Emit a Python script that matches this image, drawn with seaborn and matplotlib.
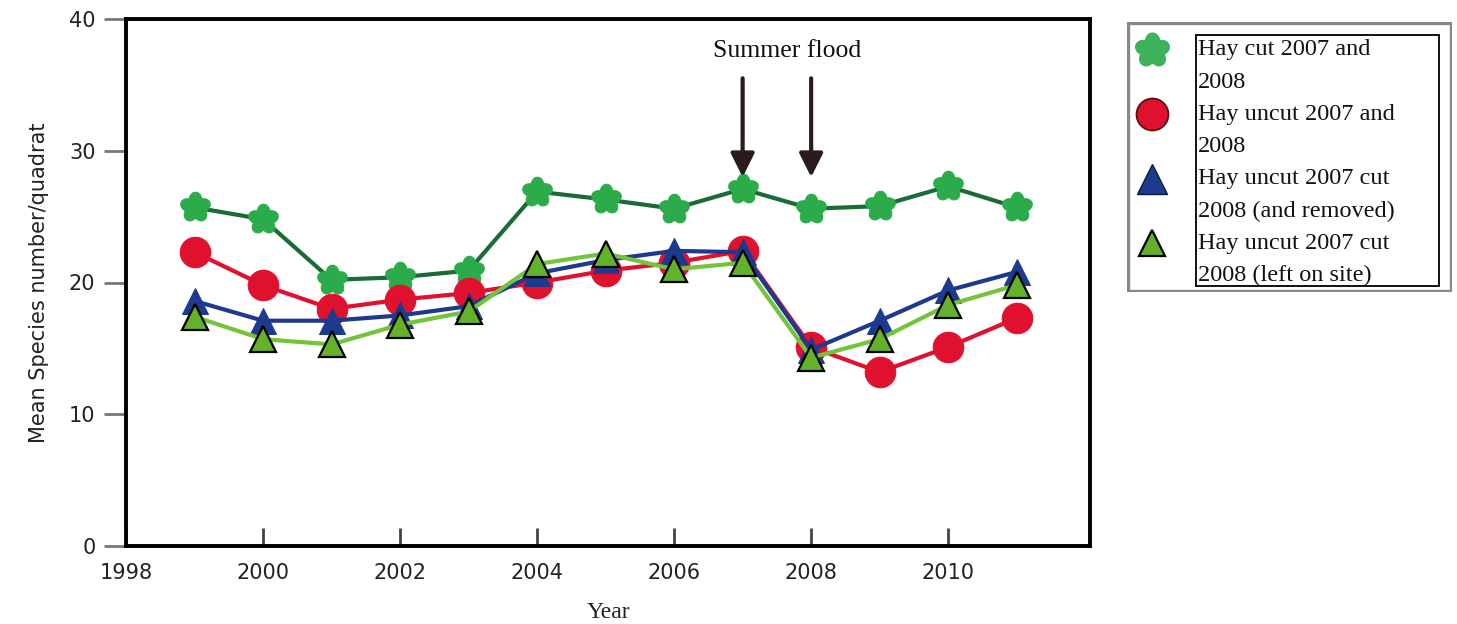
import numpy as np
import pandas as pd
import seaborn as sns
import matplotlib
matplotlib.use("Agg")
import matplotlib.pyplot as plt
from matplotlib.path import Path
from matplotlib.patches import Rectangle

sns.set_theme(style="white")
plt.rcParams['font.family'] = ['DejaVu Sans']

years = [1999, 2000, 2001, 2002, 2003, 2004, 2005, 2006, 2007, 2008, 2009, 2010, 2011]
cut_both = [25.7, 24.8, 20.2, 20.4, 20.9, 26.9, 26.3, 25.6, 27.1, 25.6, 25.8, 27.3, 25.7]
uncut_both = [22.3, 19.8, 18.0, 18.7, 19.2, 20.0, 20.9, 21.5, 22.4, 15.1, 13.2, 15.1, 17.3]
uncut_cut_removed = [18.6, 17.1, 17.1, 17.5, 18.2, 20.7, 21.7, 22.4, 22.3, 14.9, 17.1, 19.4, 20.8]
uncut_cut_left = [17.4, 15.7, 15.3, 16.8, 17.8, 21.4, 22.2, 21.0, 21.5, 14.3, 15.7, 18.3, 19.8]

labels = ["Hay cut 2007 and\n2008", "Hay uncut 2007 and\n2008",
          "Hay uncut 2007 cut\n2008 (and removed)", "Hay uncut 2007 cut\n2008 (left on site)"]
x_ticks = [1998, 2000, 2002, 2004, 2006, 2008, 2010]
y_ticks = [0, 10, 20, 30, 40]

W, H = 1457, 624
fig = plt.figure(figsize=(W / 100, H / 100), dpi=100)

def px(l, t, r, b):
    return [l / W, 1 - b / H, (r - l) / W, (b - t) / H]

ax = fig.add_axes(px(126, 19, 1090, 546))

# flower-shaped marker (5 rounded petals)
th = np.linspace(0, 2 * np.pi, 201)
rr = 0.72 + 0.32 * np.abs(np.cos(2.5 * th))
flower = Path(np.column_stack([rr * np.sin(th), rr * np.cos(th)]), closed=True)

df = pd.DataFrame({"year": years, "a": cut_both, "b": uncut_both,
                   "c": uncut_cut_removed, "d": uncut_cut_left})

sns.lineplot(data=df, x="year", y="a", ax=ax, color="#1c6b36", lw=3.0,
             marker=flower, markersize=22, markerfacecolor="#2bab4a",
             markeredgecolor="#2bab4a", zorder=3)
sns.lineplot(data=df, x="year", y="b", ax=ax, color="#e0112f", lw=3.0,
             marker="o", markersize=22, markerfacecolor="#e0112f",
             markeredgecolor="#e0112f", zorder=4)
sns.lineplot(data=df, x="year", y="c", ax=ax, color="#1c3a8e", lw=3.0,
             marker="^", markersize=19, markerfacecolor="#1c3a8e",
             markeredgecolor="#1c3a8e", zorder=5)
sns.lineplot(data=df, x="year", y="d", ax=ax, color="#74c43a", lw=3.0,
             marker="^", markersize=19, markerfacecolor="#64b22a",
             markeredgecolor="black", markeredgewidth=1.6, zorder=6)

ax.set_xlim(1998, 2012.07)
ax.set_ylim(0, 40)
ax.set_xticks(x_ticks)
ax.set_yticks(y_ticks)
ax.set_xticklabels([str(v) for v in x_ticks], fontsize=15, color="#222222")
ax.set_yticklabels([str(v) for v in y_ticks], fontsize=15, color="#222222")
ax.tick_params(axis="x", direction="in", length=13, width=2, color="#444444", pad=12)
ax.tick_params(axis="y", direction="out", length=16, width=2, color="#777777", pad=6,
               left=True)
ax.tick_params(axis="x", bottom=True)
for sp in ax.spines.values():
    sp.set_color("black")
    sp.set_linewidth(2.8)
    sp.set_visible(True)
ax.set_xlabel("Year", fontsize=17, family="Liberation Serif", color="#222222", labelpad=14)
ax.set_ylabel("Mean Species number/quadrat", fontsize=15,
              family=["Liberation Sans Narrow", "DejaVu Sans"], color="#222222", labelpad=14)
ax.grid(False)

# flood annotation
for yr in [2007, 2008]:
    ax.annotate("", xy=(yr, 28.0), xytext=(yr, 35.5),
                arrowprops=dict(arrowstyle="-|>,head_length=1.2,head_width=0.6",
                                color="#2a1c1c", lw=3.0, shrinkA=0, shrinkB=0))
ax.text(2007.65, 37.6, "Summer flood", ha="center", va="center", fontsize=18.5,
        family="Liberation Serif", color="#111111")

# legend
lax = fig.add_axes(px(1127, 22, 1452, 292))
lax.set_xlim(1127, 1452)
lax.set_ylim(292, 22)
lax.axis("off")
lax.add_patch(Rectangle((1128, 23), 323, 268, fill=False, ec="#888888", lw=2.4))
lax.add_patch(Rectangle((1196, 35), 243, 251, fill=False, ec="#111111", lw=1.4))
leg_marks = [dict(marker=flower, ms=25, mfc="#3cb35a", mec="#3cb35a"),
             dict(marker="o", ms=23, mfc="#e0112f", mec="#5a1010", mew=1.3),
             dict(marker="^", ms=21, mfc="#1c3a8e", mec="#0a1a40", mew=1.0),
             dict(marker="^", ms=19, mfc="#64b22a", mec="black", mew=1.6)]
line_step = 32.2
k = 0
for lab, mk in zip(labels, leg_marks):
    y0 = 50 + k * line_step
    lax.plot([1152], [y0], ls="none", **mk)
    for line in lab.split("\n"):
        lax.text(1198, 50 + k * line_step, line, ha="left", va="center", fontsize=17.5,
                 family="Liberation Serif", color="#111111")
        k += 1

fig.savefig("out.png", dpi=100)
